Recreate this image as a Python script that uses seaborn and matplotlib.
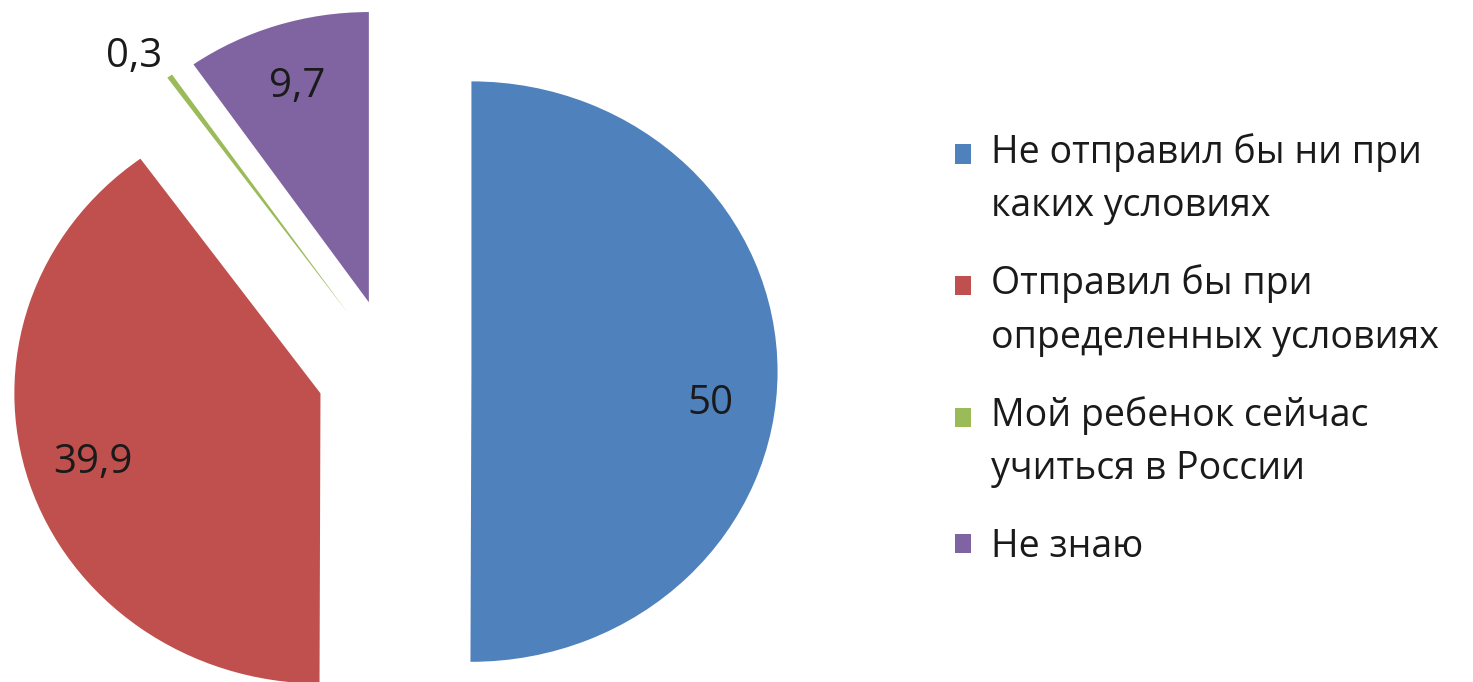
import matplotlib; matplotlib.use("Agg")
import matplotlib.pyplot as plt
import seaborn as sns
import numpy as np

categories = [
    "Не отправил бы ни при\nкаких условиях",
    "Отправил бы при\nопределенных условиях",
    "Мой ребенок сейчас\nучиться в России",
    "Не знаю",
]
values = [50, 39.9, 0.3, 9.7]
colors = ["#4F81BD", "#C0504D", "#9BBB59", "#8064A2"]

sns.set_theme(style="white")
plt.rcParams["font.family"] = ["Open Sans", "DejaVu Sans"]

fig = plt.figure(figsize=(14.73, 6.82), dpi=100)
# axes over the left part, pie radius 1 -> ~306 px wide, ~290 px tall
ax = fig.add_axes([0, 0, 900 / 1473, 1])

explode = [0.26, 0.245, 0.25, 0.25]
wedges, _ = ax.pie(values, colors=colors, startangle=90, counterclock=False,
                   explode=explode, wedgeprops=dict(linewidth=0))
ax.set_aspect("auto")
ax.set_xlim(-1.28, 1.66)
ax.set_ylim(-1.07, 1.28)
ax.axis("off")

# data labels, decimal comma
for w, v in zip(wedges, values):
    mid = np.deg2rad((w.theta1 + w.theta2) / 2)
    r = 0.78
    cx, cy = w.center
    tx = cx + r * np.cos(mid)
    ty = cy + r * np.sin(mid)
    if v == 50:
        ty -= 0.11
    if v < 1:  # tiny slice: label outside
        tx = cx + 1.15 * np.cos(mid) - 0.03
        ty = cy + 1.08 * np.sin(mid)
    ax.text(tx, ty, f"{v:g}".replace(".", ","), ha="center", va="center",
            fontsize=29, color="#1a1a1a")

fs = 27
leg = fig.legend(wedges, categories, loc="upper left",
                 bbox_to_anchor=(936 / 1473, 1 - 114 / 682),
                 frameon=False, fontsize=fs, handlelength=0.42, handleheight=0.42,
                 handletextpad=0.55, labelspacing=1.05, borderpad=0)
line_pt = 52 * 72 / 100
for t, h, lab in zip(leg.get_texts(), leg.legend_handles, categories):
    t.set_linespacing(1.53)
    t.set_color("#1a1a1a")
    # put the square next to the first line, as in the original
    if "\n" in lab:
        h.set_y(h.get_y() + line_pt / 2)

fig.savefig("out.png", dpi=100)
